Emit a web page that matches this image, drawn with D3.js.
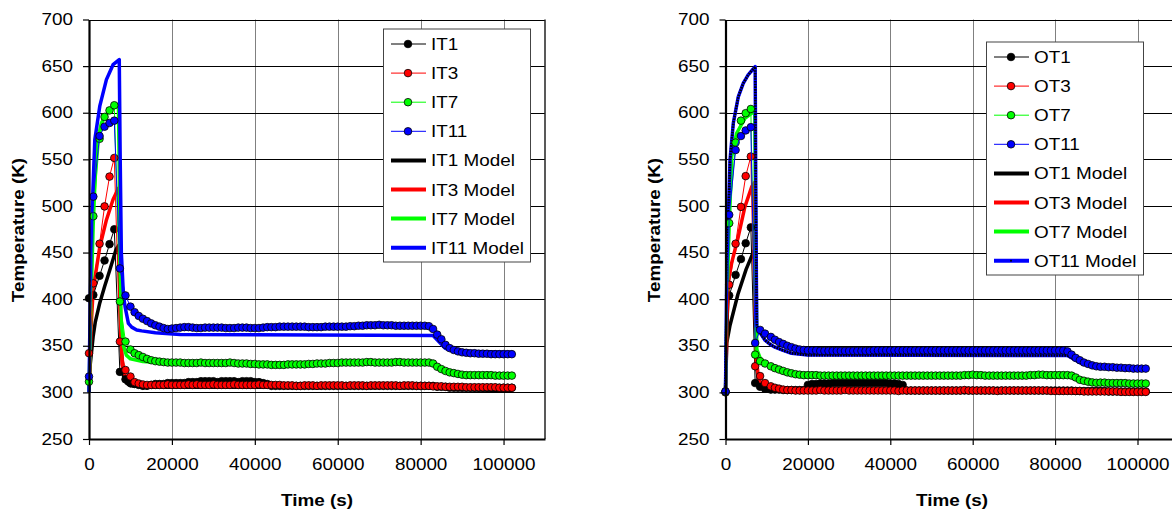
<!DOCTYPE html>
<html>
<head>
<meta charset="utf-8">
<script src="https://cdn.jsdelivr.net/npm/d3@7/dist/d3.min.js"></script>
<style>
  body { margin: 0; background: #fff; }
  svg { display: block; font-family: "Liberation Sans", Arial, sans-serif; }
</style>
</head>
<body>
<svg id="chart" width="1172" height="511"></svg>
<script>
// ---- axis ticks ----
var yTicks = [250, 300, 350, 400, 450, 500, 550, 600, 650, 700];
var xTicks = [0, 20000, 40000, 60000, 80000, 100000];

// ---- sample times (s) ----
var tailTimes = [11000, 12000, 13000, 14000, 15000, 16000, 17000, 18000, 19000, 20000,
  21000, 22000, 23000, 24000, 25000, 26000, 27000, 28000, 29000, 30000,
  31000, 32000, 33000, 34000, 35000, 36000, 37000, 38000, 39000, 40000,
  41000, 42000, 43000, 44000, 45000, 46000, 47000, 48000, 49000, 50000,
  51000, 52000, 53000, 54000, 55000, 56000, 57000, 58000, 59000, 60000,
  61000, 62000, 63000, 64000, 65000, 66000, 67000, 68000, 69000, 70000,
  71000, 72000, 73000, 74000, 75000, 76000, 77000, 78000, 79000, 80000,
  81000, 82000, 83000, 84000, 85000, 86000, 87000, 88000, 89000, 90000,
  91000, 92000, 93000, 94000, 95000, 96000, 97000, 98000, 99000, 100000,
  101000, 102000];
var inletTimes = [0, 1050, 2550, 3750, 4950, 6100, 7450, 8800, 10000].concat(tailTimes);
var outletTimes = [0, 900, 2450, 3750, 4900, 6150, 7200, 8400, 9600].concat(tailTimes);

// ---- inlet measurements (K): 9 early points, then one row per 10000 s ----
var IT1 = [401, 404.5, 425, 441.5, 459, 475, 322, 314, 310,
  309, 308, 307, 307, 308, 309, 309, 309, 310, 310,
  310, 310, 310, 311, 311, 311, 312, 312, 312, 312,
  311, 312, 312, 312, 312, 311, 312, 312, 312, 311,
  311, 310, 309, 307, 307, 307, 307, 307, 307, 307,
  307, 307, 307, 307, 307, 307, 307, 307, 307, 307,
  307, 307, 307, 307, 307, 307, 307, 307, 307, 307,
  307, 307, 307, 307, 307, 307, 307, 307, 307, 307,
  307, 307, 307, 306, 306, 306, 305, 305, 305, 305,
  305, 305, 305, 305, 305, 305, 305, 305, 305, 305,
  305, 305];
var IT3 = [342, 417, 459.5, 499.5, 531.5, 551.5, 354.5, 324, 317,
  311, 309.5, 308.5, 308, 308, 308, 308, 308, 308.5, 308,
  308, 308, 308, 308.5, 308, 308.5, 308, 308, 308, 308.5,
  308, 308, 308, 308, 308.5, 308, 308, 308, 308, 308,
  308.5, 308, 308, 308, 308, 308, 307.5, 307.5, 307.5, 307,
  307, 307.5, 307.5, 307.5, 307, 307.5, 307.5, 307.5, 307.5, 307.5,
  307.5, 307, 307.5, 307.5, 307.5, 307.5, 307, 307.5, 307.5, 307.5,
  307.5, 307.5, 307.5, 307.5, 307, 307.5, 307.5, 307.5, 307, 307,
  307, 307, 306.5, 306.5, 306.5, 306, 306, 306, 306, 306,
  305.5, 305.5, 305.5, 305.5, 305.5, 305.5, 305.5, 305.5, 305, 305,
  305, 305];
var IT7 = [311.5, 489, 572, 595.5, 602.5, 608, 397.5, 354.5, 346,
  342, 340, 338, 336, 334.5, 333.5, 333, 332.5, 332, 332,
  332, 332, 331.5, 331.5, 331.5, 331.5, 332, 331.5, 331.5, 331.5,
  331.5, 331.5, 331.5, 332, 331.5, 331, 331, 331, 330.5, 330.5,
  330, 330, 330, 329.5, 329.5, 329.5, 329.5, 330, 330, 330,
  330, 330, 330.5, 330.5, 331, 331, 331, 331.5, 331.5, 331.5,
  332, 332, 332, 332, 332, 332, 332.5, 332.5, 332, 332,
  332, 332, 332, 332.5, 332.5, 332, 332, 332, 332, 332,
  332, 332, 331, 327.5, 325, 323, 321.5, 320.7, 319.8, 319,
  318.5, 318.5, 318.5, 318.5, 318.5, 318.5, 318.5, 318, 318, 318,
  318, 318];
var IT11 = [317, 510, 575, 585, 589, 591.5, 433, 404, 392,
  386, 382, 379, 376.5, 374, 372, 370.5, 369, 368, 368.5,
  369, 369.5, 370, 370, 369.5, 369, 369, 369.5, 369.5, 369.5,
  369.5, 369.5, 369, 369, 369, 369.5, 369.5, 369.5, 369, 369,
  369, 369.5, 370, 370, 370, 370.5, 370.5, 370.5, 370.5, 370.5,
  370.5, 370.5, 370, 370, 370, 370, 370.5, 370.5, 370.5, 370.5,
  370.5, 370.5, 371, 371, 371.5, 371.5, 372, 372, 372, 372.5,
  372, 372, 372, 371.5, 371.5, 371.5, 371.5, 371.5, 371.5, 371.5,
  371.5, 371, 368, 362, 357, 351, 347.5, 345.5, 344, 343,
  342.5, 342, 342, 341.5, 341.5, 341.5, 341, 341, 341, 341,
  341, 341];

// ---- outlet measurements (K) ----
var OT1 = [301, 404, 426, 443, 460, 477, 310, 306, 304,
  303, 303, 303, 302.5, 302.5, 302.5, 302.5, 302.5, 302.5, 308,
  309, 309, 309.5, 309.5, 309.5, 310, 310, 310, 310, 310,
  310, 310, 310, 310, 310, 310, 310, 310, 310, 309.5,
  309.5, 309, 308, 302, 302, 302, 302, 302, 302, 302,
  302, 302, 302, 302, 302, 302, 302, 302, 302, 302,
  302, 302, 302, 302, 302, 302, 302, 302, 302, 302,
  302, 302, 302, 302, 302, 302, 302, 302, 302, 302,
  302, 302, 302, 302, 301.5, 301.5, 301.5, 301.5, 301.5, 301.5,
  301.5, 301.5, 301, 301, 301, 301, 301, 301, 301, 301,
  301, 301];
var OT3 = [300, 415.5, 459.5, 499, 532, 553, 328, 317.5, 310,
  306.5, 305, 304, 303, 302.5, 302.5, 302, 302, 302, 302,
  302, 302, 302.5, 302, 302, 302, 302, 302, 302.5, 302,
  302, 302, 302, 302, 302, 302, 302, 302, 302, 302,
  302, 301.5, 302, 302, 302, 302, 302, 302, 302, 302,
  302, 302, 302, 302, 302, 302, 302, 302.5, 302, 302,
  302, 302, 302, 302, 302, 301.5, 302, 302, 302, 302,
  302, 302, 302, 302, 302, 302, 302, 302, 301.5, 301.5,
  301.5, 301.5, 301.5, 301.5, 301.5, 301.5, 301, 301, 301, 301,
  301, 301, 301, 301, 301, 300.5, 300.5, 300.5, 300.5, 300.5,
  300.5, 300.5];
var OT7 = [300.5, 481.5, 568, 591.5, 599.5, 604, 340.5, 333.5, 331,
  328, 326, 324.5, 323, 321.5, 320.5, 319.5, 319, 318.5, 318.5,
  318.5, 318.5, 318, 318, 318, 318, 318, 318, 318, 318,
  318, 318, 318, 318, 318, 318, 318, 318, 318, 318,
  318, 318, 318, 318, 318, 318, 318, 318, 318, 318,
  318, 318, 318, 318, 318, 318, 318, 318.5, 318.5, 319,
  318.5, 318.5, 318, 318, 318, 318, 318, 318, 318, 318,
  318, 318, 318, 318.5, 318.5, 319, 319, 318.5, 318.5, 318.5,
  318.5, 318.5, 318.5, 318, 316, 313.5, 312.5, 311.5, 310.7, 310.3,
  310.5, 310.5, 310, 310, 310, 310, 310, 309.5, 309.5, 309.5,
  309.5, 309.5];
var OT11 = [301, 490.5, 560, 575, 581, 584.5, 353, 367, 363,
  359.5, 356.5, 354, 352, 350, 348.5, 347, 346, 345.5, 345,
  345, 345, 344.5, 344.5, 344.5, 344.5, 344.5, 344.5, 344.5, 344.5,
  344.5, 344.5, 344.5, 344.5, 344.5, 345, 345, 345, 345, 345,
  345, 345, 345, 345, 345, 345, 345, 345, 345, 345,
  345, 345, 345, 345, 345, 345, 345, 345, 345, 345,
  345, 345, 345, 345, 345, 345, 345, 345, 345, 345,
  345, 345, 345, 345, 345, 345, 345, 345, 345, 345,
  345, 345, 344, 340.5, 337, 334.5, 332, 330.5, 329, 328,
  327.5, 327.5, 327, 327, 326.5, 326.5, 326, 326, 325.5, 325.5,
  325.5, 325.5];

// ---- model curves [time, K] ----
var IT1Model = [[0, 300], [300, 330], [1000, 360], [1500, 375], [2600, 396], [3800, 414], [5000, 431],
  [6500, 453], [7200, 458], [7500, 400], [7800, 345], [8300, 318], [9000, 310], [10000, 307],
  [15000, 305.5], [83000, 305.5], [88000, 303], [102000, 302]];
var IT3Model = [[0, 300], [500, 370], [1000, 410], [2600, 456], [4200, 485], [5800, 507], [7100, 519],
  [7300, 519], [7600, 380], [8000, 330], [9000, 314], [10000, 309], [15000, 307], [83000, 307],
  [88000, 305], [102000, 304]];
var IT7Model = [[0, 300], [500, 400], [1000, 478], [1800, 565], [3000, 589], [4600, 601], [6200, 606],
  [7100, 609], [7350, 520], [7700, 380], [8300, 350], [9000, 340], [10000, 336], [13000, 333],
  [20000, 331], [83000, 331], [87000, 321], [90000, 318.5], [102000, 318]];
var IT11Model = [[0, 300], [300, 400], [800, 500], [1400, 571], [2600, 607], [4200, 635.5], [5800, 651.5],
  [7300, 657], [7500, 560], [7800, 450], [8300, 405], [8700, 392], [9500, 374], [10300, 370],
  [11500, 367], [12700, 366], [16000, 364], [22000, 362], [83000, 361], [86000, 347],
  [90000, 344], [102000, 343]];

var OT1Model = [[0, 300], [300, 353], [1100, 372], [3000, 405], [5000, 432], [7000, 453], [7200, 400],
  [7500, 330], [8000, 312], [9000, 306], [10000, 304], [15000, 303], [83000, 302.5],
  [88000, 301], [102000, 300.5]];
var OT3Model = [[0, 300], [400, 380], [700, 420], [1500, 439], [3100, 467], [4700, 499], [6400, 521],
  [7000, 525], [7200, 420], [7500, 335], [8000, 315], [9000, 307], [10000, 304], [15000, 302.5],
  [83000, 302.5], [88000, 301], [102000, 300.5]];
var OT7Model = [[0, 300], [300, 380], [700, 453], [1500, 553], [2700, 578], [4700, 594], [6400, 599.5],
  [7100, 601], [7300, 480], [7600, 346], [8500, 336], [9600, 331.5], [12000, 325], [16000, 320],
  [20000, 318.5], [83000, 318.5], [88000, 311], [102000, 309.5]];
var OT11Model = [[0, 300], [300, 417], [700, 489], [1100, 549.5], [1900, 589], [3100, 617], [4300, 631.5],
  [5500, 640.5], [7200, 649.5], [7350, 520], [7500, 417], [7600, 371], [8400, 364], [9600, 356],
  [11000, 351], [12000, 348.5], [14000, 345], [16000, 342], [20000, 340], [83000, 339.5],
  [86000, 332], [90000, 326.5], [102000, 324.5]];

var colors = ['#000000', '#ff0000', '#00ff00', '#0000ff'];

var svg = d3.select('#chart');

// the source picture is stretched sideways, so widen the glyphs a bit
function stretchText(sel) {
  sel.each(function() {
    var t = d3.select(this);
    var tx = +t.attr('x') || 0, ty = +t.attr('y') || 0;
    var tr = t.attr('transform') || '';
    t.attr('x', 0).attr('y', 0)
      .attr('transform', tr + ' translate(' + tx + ',' + ty + ') scale(1.18,1)');
  });
}

function drawPanel(p) {
  var x = d3.scaleLinear().domain([0, 110000]).range([p.left, p.right]);
  var y = d3.scaleLinear().domain([250, 700]).range([439, 19.5]);
  var g = svg.append('g');

  // grid
  g.selectAll('line.vg').data(xTicks.slice(1)).enter().append('line')
    .attr('class', 'vg')
    .attr('x1', d => Math.round(x(d)) + 0.5).attr('x2', d => Math.round(x(d)) + 0.5)
    .attr('y1', y(700)).attr('y2', y(250))
    .attr('stroke', '#808080').attr('stroke-width', 1);
  g.selectAll('line.hg').data(yTicks.slice(1)).enter().append('line')
    .attr('class', 'hg')
    .attr('x1', p.left).attr('x2', p.right)
    .attr('y1', d => Math.round(y(d)) + 0.5).attr('y2', d => Math.round(y(d)) + 0.5)
    .attr('stroke', '#000').attr('stroke-width', 1);
  g.append('line')
    .attr('x1', p.right).attr('x2', p.right).attr('y1', y(700)).attr('y2', y(250))
    .attr('stroke', '#222').attr('stroke-width', 1.5);

  var line = d3.line().x(d => x(d[0])).y(d => y(d[1]));

  // model curves
  p.models.forEach(function(m, i) {
    g.append('path').attr('d', line(m))
      .attr('fill', 'none').attr('stroke', colors[i])
      .attr('stroke-width', 3.5).attr('stroke-linejoin', 'round');
    if (p.dottedLast && i === 3) {
      g.append('path').attr('d', line(m))
        .attr('fill', 'none').attr('stroke', '#000')
        .attr('stroke-width', 2.6).attr('stroke-dasharray', '1.6,1.1');
    }
  });

  // measured series
  p.series.forEach(function(s, i) {
    var pts = p.times.map((t, j) => [t, s[j]]).filter(d => d[1] != null);
    g.append('path').attr('d', line(pts))
      .attr('fill', 'none').attr('stroke', colors[i]).attr('stroke-width', 1);
    g.selectAll(null).data(pts).enter().append('circle')
      .attr('cx', d => x(d[0])).attr('cy', d => y(d[1])).attr('r', 3.8)
      .attr('fill', colors[i]).attr('stroke', '#000').attr('stroke-width', 0.8);
  });

  // axes
  var ya = g.append('g').attr('transform', 'translate(' + p.left + ',0)')
    .call(d3.axisLeft(y).tickValues(yTicks).tickSize(6).tickSizeOuter(0).tickPadding(10));
  var xa = g.append('g').attr('transform', 'translate(0,439)')
    .call(d3.axisBottom(x).tickValues(xTicks).tickFormat(d3.format('d')).tickSize(6).tickSizeOuter(0).tickPadding(14));
  [ya, xa].forEach(function(a) {
    a.select('.domain').attr('stroke', '#000').attr('stroke-width', 2.2);
    a.selectAll('.tick line').attr('stroke', '#000').attr('stroke-width', 1.2);
    a.selectAll('.tick text').attr('font-size', 16).attr('fill', '#000')
      .attr('font-family', '"Liberation Sans", Arial, sans-serif');
  });

  // titles
  g.append('text').attr('x', (p.left + p.right) / 2).attr('y', 506)
    .attr('text-anchor', 'middle').attr('font-weight', 'bold').attr('font-size', 16)
    .text('Time (s)');
  g.append('text')
    .attr('transform', 'translate(' + p.ytitleX + ',230) rotate(-90)')
    .attr('text-anchor', 'middle').attr('font-weight', 'bold').attr('font-size', 16)
    .text('Temperature (K)');

  // legend
  var lg = g.append('g').attr('transform', 'translate(' + p.legend[0] + ',' + p.legend[1] + ')');
  lg.append('rect').attr('x', 0.5).attr('y', 0.5).attr('width', p.legend[2]).attr('height', 233)
    .attr('fill', '#fff').attr('stroke', '#444').attr('stroke-width', 1);
  var labels = p.names.concat(p.modelNames);
  labels.forEach(function(name, k) {
    var ly = 15.5 + k * 29.1;
    var c = colors[k % 4];
    var isModel = k >= 4;
    lg.append('line').attr('x1', 8).attr('x2', 43).attr('y1', ly).attr('y2', ly)
      .attr('stroke', c).attr('stroke-width', isModel ? 4 : 1);
    if (!isModel) {
      lg.append('circle').attr('cx', 25).attr('cy', ly).attr('r', 3.8)
        .attr('fill', c).attr('stroke', '#000').attr('stroke-width', 0.8);
    } else if (p.dottedLast && k === 7) {
      lg.append('circle').attr('cx', 25).attr('cy', ly).attr('r', 1).attr('fill', '#000');
    }
    lg.append('text').attr('x', 48).attr('y', ly + 6).attr('font-size', 16).attr('fill', '#000')
      .text(name);
  });

  stretchText(g.selectAll('text'));
}

drawPanel({
  left: 89, right: 545, ytitleX: 24,
  times: inletTimes,
  series: [IT1, IT3, IT7, IT11],
  models: [IT1Model, IT3Model, IT7Model, IT11Model],
  names: ['IT1', 'IT3', 'IT7', 'IT11'],
  modelNames: ['IT1 Model', 'IT3 Model', 'IT7 Model', 'IT11 Model'],
  legend: [383, 28.5, 147],
  dottedLast: false
});

drawPanel({
  left: 725.5, right: 1178.7, ytitleX: 660,
  times: outletTimes,
  series: [OT1, OT3, OT7, OT11],
  models: [OT1Model, OT3Model, OT7Model, OT11Model],
  names: ['OT1', 'OT3', 'OT7', 'OT11'],
  modelNames: ['OT1 Model', 'OT3 Model', 'OT7 Model', 'OT11 Model'],
  legend: [986, 41.5, 157],
  dottedLast: true
});
</script>
</body>
</html>
